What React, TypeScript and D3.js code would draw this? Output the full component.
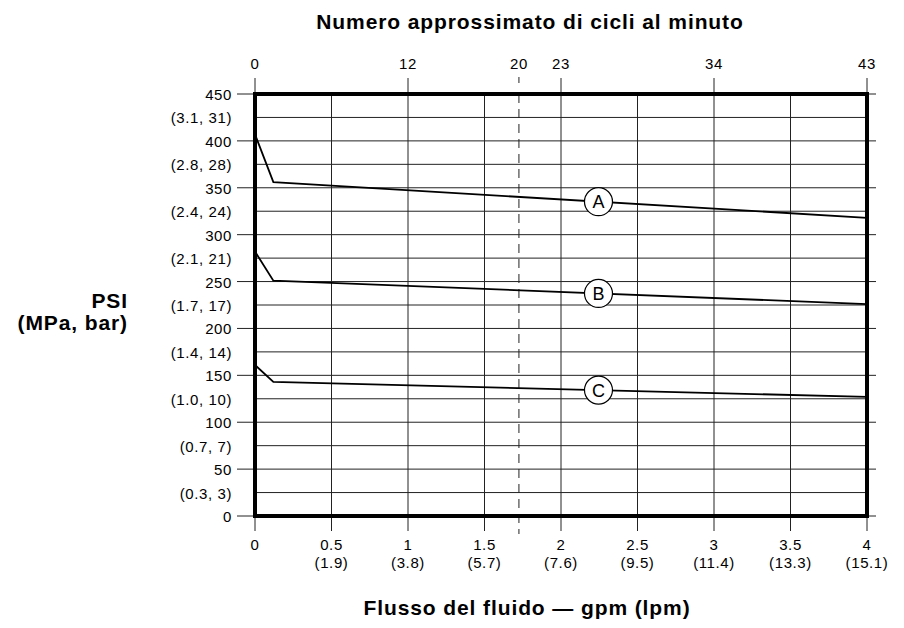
import React from 'react';
import * as d3 from 'd3';

const gpmTicks = [0, 0.5, 1, 1.5, 2, 2.5, 3, 3.5, 4];
const gpmLabels = ['0', '0.5', '1', '1.5', '2', '2.5', '3', '3.5', '4'];
const lpmLabels = ['', '(1.9)', '(3.8)', '(5.7)', '(7.6)', '(9.5)', '(11.4)', '(13.3)', '(15.1)'];
const cycleTicks = [0, 1, 2, 3, 4];
const cycleLabels = ['0', '12', '23', '34', '43'];
const dashedGpm = 1.725;
const dashedLabel = '20';
const psiTicks = [0, 50, 100, 150, 200, 250, 300, 350, 400, 450];
const minorPsi = [25, 75, 125, 175, 225, 275, 325, 375, 425];
const minorLabels = ['(0.3, 3)', '(0.7, 7)', '(1.0, 10)', '(1.4, 14)', '(1.7, 17)', '(2.1, 21)', '(2.4, 24)', '(2.8, 28)', '(3.1, 31)'];

const seriesA = [[0, 407], [0.12, 356], [4, 318]];
const seriesB = [[0, 282], [0.12, 251], [4, 226]];
const seriesC = [[0, 161], [0.12, 143], [4, 127]];
const seriesNames = ['A', 'B', 'C'];
const labelGpm = 2.245;

const FONT = '"Liberation Sans", Arial, sans-serif';

export default function App() {
  const x = d3.scaleLinear().domain([0, 4]).range([255, 867]);
  const y = d3.scaleLinear().domain([0, 450]).range([516, 94]);
  const line = d3.line<number[]>().x(d => x(d[0])).y(d => y(d[1]));
  const series = [seriesA, seriesB, seriesC];
  const interp = (s: number[][], g: number) => {
    for (let i = 0; i < s.length - 1; i++) {
      if (g >= s[i][0] && g <= s[i + 1][0]) {
        const t = (g - s[i][0]) / (s[i + 1][0] - s[i][0]);
        return s[i][1] + t * (s[i + 1][1] - s[i][1]);
      }
    }
    return s[s.length - 1][1];
  };
  const tickFont = { fontSize: 15, letterSpacing: 0.6 } as const;
  const titleFont = { fontSize: 21, fontWeight: 'bold' as const, letterSpacing: 0.9 };
  return (
    <svg width={904} height={628} style={{ position: 'absolute', left: 0, top: 0, background: '#fff' }} fontFamily={FONT}>
      <rect x={0} y={0} width={904} height={628} fill="#fff" />
      {/* horizontal grid */}
      {psiTicks.map(v => (
        <line key={'h' + v} x1={237} x2={876} y1={y(v)} y2={y(v)} stroke="#222" strokeWidth={1} />
      ))}
      {minorPsi.map(v => (
        <line key={'m' + v} x1={x(0)} x2={x(4)} y1={y(v)} y2={y(v)} stroke="#222" strokeWidth={1} />
      ))}
      {/* vertical grid */}
      {gpmTicks.map(v => (
        <line key={'v' + v} x1={x(v)} x2={x(v)} y1={y(450)} y2={531} stroke="#222" strokeWidth={1} />
      ))}
      {cycleTicks.map(v => (
        <line key={'c' + v} x1={x(v)} x2={x(v)} y1={78} y2={y(450)} stroke="#222" strokeWidth={1} />
      ))}
      {/* dashed line */}
      <line x1={x(dashedGpm)} x2={x(dashedGpm)} y1={77} y2={83} stroke="#222" strokeWidth={1} />
      <line x1={x(dashedGpm)} x2={x(dashedGpm)} y1={y(450)} y2={534} stroke="#222" strokeWidth={1} strokeDasharray="9,6" />
      {/* frame */}
      <rect x={x(0)} y={y(450)} width={x(4) - x(0)} height={y(0) - y(450)} fill="none" stroke="#000" strokeWidth={4} />
      {/* curves */}
      {series.map((s, i) => (
        <path key={'s' + i} d={line(s) || ''} fill="none" stroke="#000" strokeWidth={1.8} />
      ))}
      {series.map((s, i) => {
        const cy = y(interp(s, labelGpm));
        return (
          <g key={'l' + i}>
            <circle cx={x(labelGpm)} cy={cy} r={14} fill="#fff" stroke="#000" strokeWidth={1.2} />
            <text x={x(labelGpm)} y={cy + 6.5} textAnchor="middle" fontSize={18}>{seriesNames[i]}</text>
          </g>
        );
      })}
      {/* top axis labels */}
      {cycleTicks.map((v, i) => (
        <text key={'ct' + i} x={x(v)} y={69} textAnchor="middle" {...tickFont}>{cycleLabels[i]}</text>
      ))}
      <text x={x(dashedGpm)} y={69} textAnchor="middle" {...tickFont}>{dashedLabel}</text>
      {/* left labels */}
      {psiTicks.map(v => (
        <text key={'pl' + v} x={232} y={y(v) + 6} textAnchor="end" {...tickFont}>{v}</text>
      ))}
      {minorPsi.map((v, i) => (
        <text key={'ml' + v} x={232} y={y(v) + 6} textAnchor="end" {...tickFont}>{minorLabels[i]}</text>
      ))}
      {/* bottom labels */}
      {gpmTicks.map((v, i) => (
        <g key={'bl' + i}>
          <text x={x(v)} y={550} textAnchor="middle" {...tickFont}>{gpmLabels[i]}</text>
          <text x={x(v)} y={568} textAnchor="middle" {...tickFont}>{lpmLabels[i]}</text>
        </g>
      ))}
      {/* titles */}
      <text x={530} y={29} textAnchor="middle" {...titleFont}>Numero approssimato di cicli al minuto</text>
      <text x={527} y={615} textAnchor="middle" {...titleFont}>Flusso del fluido — gpm (lpm)</text>
      <text x={128} y={308} textAnchor="end" {...titleFont}>PSI</text>
      <text x={128} y={330} textAnchor="end" {...titleFont}>(MPa, bar)</text>
    </svg>
  );
}
